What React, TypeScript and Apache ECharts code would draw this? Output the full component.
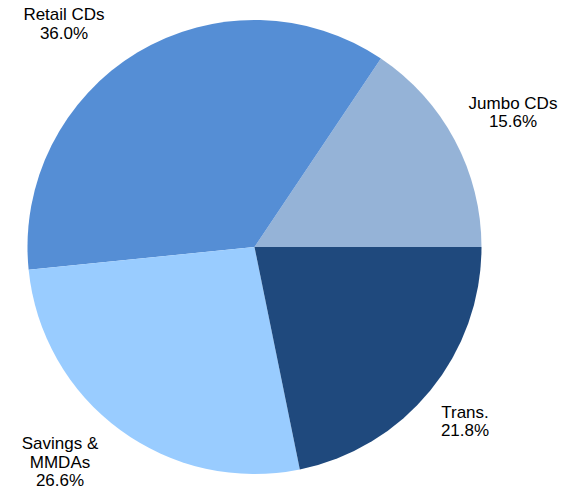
import React, { useEffect, useRef } from "react";
import * as echarts from "echarts";

const categories = ["Jumbo CDs", "Retail CDs", "Savings &\nMMDAs", "Trans."];
const values = [15.6, 36.0, 26.6, 21.8];
const colors = ["#95B3D7", "#558ED5", "#99CCFF", "#1F497D"];

export default function App() {
  const ref = useRef<HTMLDivElement>(null);

  useEffect(() => {
    if (!ref.current) return;
    const chart = echarts.init(ref.current, null, { renderer: "svg" });
    const labelPos = [
      { x: 513, y: 112.5 },
      { x: 64, y: 24 },
      { x: 60, y: 462 },
      { x: 465, y: 421.5 },
    ];
    chart.setOption({
      animation: false,
      backgroundColor: "#ffffff",
      series: [
        {
          type: "pie",
          center: [254.5, 247],
          radius: 227,
          startAngle: 0,
          clockwise: false,
          avoidLabelOverlap: false,
          itemStyle: { borderWidth: 0 },
          label: {
            show: true,
            position: "outside",
            fontFamily: "Liberation Sans, Arial, sans-serif",
            fontSize: 17,
            lineHeight: 18.5,
            color: "#000000",
            align: "center",
            formatter: (p: any) => `${p.name}\n${Number(p.value).toFixed(1)}%`,
          },
          labelLine: { show: false },
          labelLayout: (p: any) => ({
            x: labelPos[p.dataIndex].x,
            y: labelPos[p.dataIndex].y,
            align: "center",
            verticalAlign: "middle",
          }),
          emphasis: { disabled: true },
          data: categories.map((name, i) => ({
            name,
            value: values[i],
            itemStyle: { color: colors[i] },
          })),
        },
      ],
    });
    return () => chart.dispose();
  }, []);

  return (
    <div
      ref={ref}
      style={{ position: "fixed", left: 0, top: 0, width: 567, height: 490 }}
    />
  );
}
